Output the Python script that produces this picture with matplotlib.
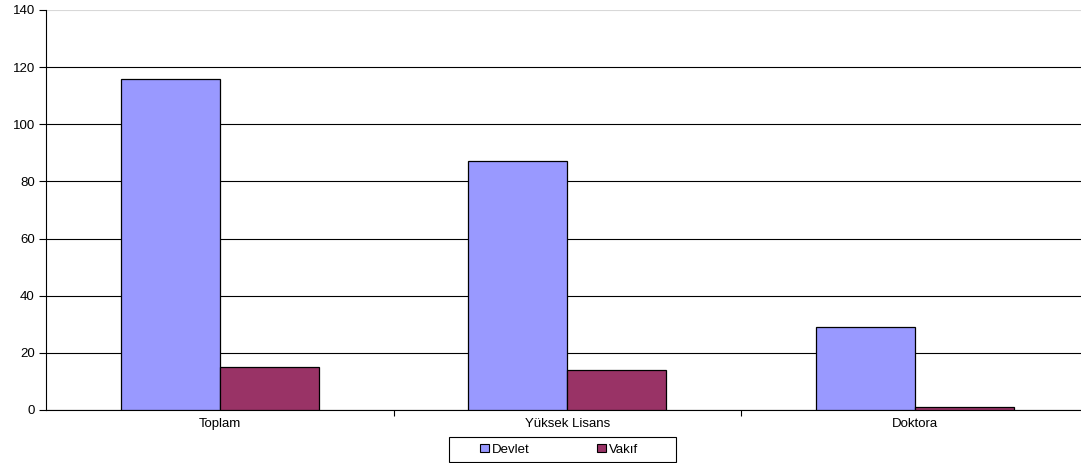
import numpy as np
import matplotlib.pyplot as plt
from matplotlib.patches import Patch, Rectangle

plt.rcParams['font.family'] = ['Liberation Sans', 'DejaVu Sans']

# data
kategori = ['Toplam', 'Yüksek Lisans', 'Doktora']
devlet = [116, 87, 29]
vakif = [15, 14, 1]
y_ticks = [0, 20, 40, 60, 80, 100, 120, 140]

fs = 9.5
W, H = 1081, 463

fig = plt.figure(figsize=(W / 100, H / 100), dpi=100)
# plot area: left 46px, top 10px, bottom 410px, width 3 categories * 347.5px
ax = fig.add_axes([46 / W, (H - 410) / H, 1042.5 / W, 400 / H])

x = np.arange(len(kategori))
w = 0.285
ax.bar(x - w / 2, devlet, w, color='#9999FF', edgecolor='black', linewidth=0.9, zorder=3)
ax.bar(x + w / 2, vakif, w, color='#993366', edgecolor='black', linewidth=0.9, zorder=3)

ax.set_xlim(-0.5, 2.5)
ax.set_ylim(0, 140)
ax.set_yticks(y_ticks)
ax.tick_params(axis='y', labelsize=fs, length=5, width=0.8, pad=3)

# category labels centered, tick marks at boundaries
ax.set_xticks(x)
ax.set_xticklabels(kategori, fontsize=fs)
ax.tick_params(axis='x', which='major', length=0, pad=6)
ax.set_xticks([0.5, 1.5], minor=True)
ax.tick_params(axis='x', which='minor', length=4, width=0.8)

ax.yaxis.grid(True, color='black', linewidth=0.8, zorder=0)
ax.set_axisbelow(True)
ax.get_ygridlines()[-1].set_color('#d8d8d8')

ax.spines['right'].set_visible(False)
ax.spines['top'].set_visible(False)
ax.spines['left'].set_linewidth(0.8)
ax.spines['bottom'].set_linewidth(0.8)

# legend frame (excel style: wide box)
fig.patches.append(Rectangle((449 / W, (H - 462) / H), 227 / W, 25 / H,
                             transform=fig.transFigure, facecolor='white',
                             edgecolor='black', linewidth=0.8, zorder=1))

handles = [Patch(facecolor='#9999FF', edgecolor='black', linewidth=0.8, label='Devlet'),
           Patch(facecolor='#993366', edgecolor='black', linewidth=0.8, label='Vakıf')]
leg = fig.legend(handles=handles, loc='center left', bbox_to_anchor=(480 / W, (H - 450) / H),
                 ncol=2, fontsize=fs, frameon=False,
                 handlelength=0.7, handleheight=0.55, handletextpad=0.2, columnspacing=5.1,
                 borderpad=0, borderaxespad=0)
leg.set_zorder(2)

fig.savefig('out.png', dpi=100)
